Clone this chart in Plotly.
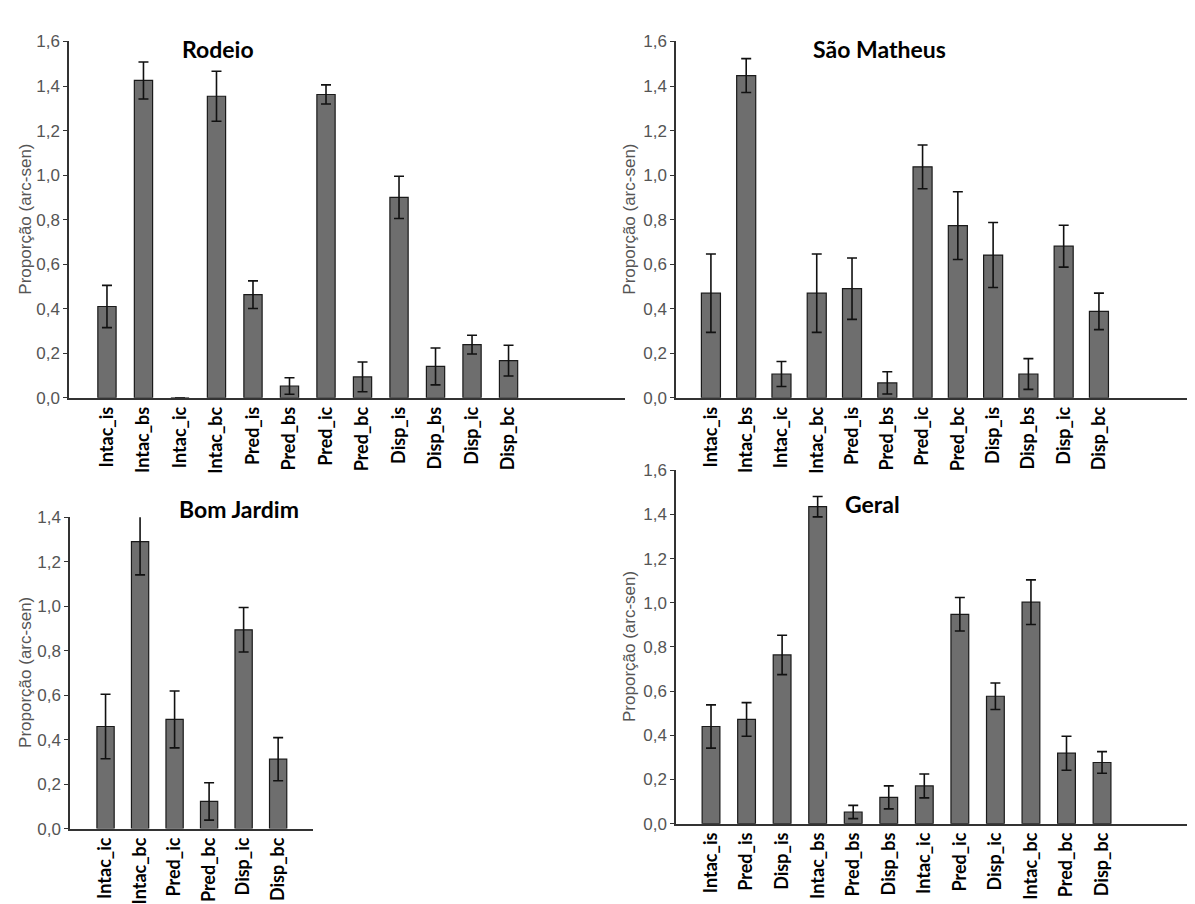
import plotly.graph_objects as go

# ---------------- data ----------------
rodeio_cats = ["Intac_is", "Intac_bs", "Intac_ic", "Intac_bc", "Pred_is", "Pred_bs",
               "Pred_ic", "Pred_bc", "Disp_is", "Disp_bs", "Disp_ic", "Disp_bc"]
rodeio_vals = [0.41, 1.425, 0.0, 1.354, 0.463, 0.053, 1.362, 0.094, 0.90, 0.141, 0.239, 0.167]
rodeio_errs = [0.095, 0.083, 0.0, 0.112, 0.062, 0.037, 0.043, 0.067, 0.095, 0.083, 0.042, 0.069]

smatheus_cats = ["Intac_is", "Intac_bs", "Intac_ic", "Intac_bc", "Pred_is", "Pred_bs",
                 "Pred_ic", "Pred_bc", "Disp_is", "Disp_bs", "Disp_ic", "Disp_bc"]
smatheus_vals = [0.47, 1.447, 0.107, 0.47, 0.49, 0.067, 1.037, 0.773, 0.641, 0.107, 0.681, 0.388]
smatheus_errs = [0.176, 0.076, 0.056, 0.176, 0.138, 0.05, 0.098, 0.152, 0.146, 0.069, 0.094, 0.082]

bomjardim_cats = ["Intac_ic", "Intac_bc", "Pred_ic", "Pred_bc", "Disp_ic", "Disp_bc"]
bomjardim_vals = [0.459, 1.29, 0.491, 0.122, 0.894, 0.312]
bomjardim_errs = [0.145, 0.149, 0.128, 0.084, 0.10, 0.097]

geral_cats = ["Intac_is", "Pred_is", "Disp_is", "Intac_bs", "Pred_bs", "Disp_bs",
              "Intac_ic", "Pred_ic", "Disp_ic", "Intac_bc", "Pred_bc", "Disp_bc"]
geral_vals = [0.44, 0.472, 0.764, 1.435, 0.053, 0.119, 0.171, 0.948, 0.577, 1.003, 0.319, 0.277]
geral_errs = [0.098, 0.076, 0.089, 0.046, 0.03, 0.052, 0.054, 0.076, 0.06, 0.101, 0.077, 0.049]

titles = ["Rodeio", "São Matheus", "Bom Jardim", "Geral"]
y_title = "Proporção (arc-sen)"
y_ticks_16 = [0, 0.2, 0.4, 0.6, 0.8, 1.0, 1.2, 1.4, 1.6]
y_ticks_14 = [0, 0.2, 0.4, 0.6, 0.8, 1.0, 1.2, 1.4]

# ---------------- layout geometry (pixels) ----------------
W, H = 1195, 904
panels = [
    (rodeio_cats, rodeio_vals, rodeio_errs, 61, 617, 389, 25, 1.6, [-1.04, 14.19], 0.5, y_ticks_16),
    (smatheus_cats, smatheus_vals, smatheus_errs, 668, 1195, 389, 25, 1.6, [-0.99, 13.95], 0.54, y_ticks_16),
    (bomjardim_cats, bomjardim_vals, bomjardim_errs, 62, 305, 829, 511, 1.4, [-1.03, 6.01], 0.5, y_ticks_14),
    (geral_cats, geral_vals, geral_errs, 668, 1195, 824, 463, 1.6, [-0.985, 13.84], 0.5, y_ticks_16),
]
title_pos = [(210, 33), (871, 33), (231, 503), (864, 497)]
ytitle_x = [18, 622, 18, 622]

fig = go.Figure()
annotations = []
for i, (cats, vals, errs, xl, xr, yz, yt, ymax, xrng, bw, yticks) in enumerate(panels):
    n = i + 1
    xa = "x" if n == 1 else f"x{n}"
    ya = "y" if n == 1 else f"y{n}"
    fig.add_trace(go.Bar(
        x=list(range(len(cats))), y=vals, width=bw, cliponaxis=False,
        marker=dict(color="#6e6e6e", line=dict(color="#1a1a1a", width=1.2)),
        error_y=dict(type="data", array=errs, visible=True, color="#111111",
                     thickness=1.6, width=5),
        xaxis=xa, yaxis=ya, showlegend=False,
    ))
    xdom = [xl / W, xr / W]
    ydom = [(H - yz) / H, (H - yt) / H]
    xkey = "xaxis" if n == 1 else f"xaxis{n}"
    ykey = "yaxis" if n == 1 else f"yaxis{n}"
    fig.update_layout(**{
        xkey: dict(domain=xdom, anchor=ya, range=xrng, tickmode="array",
                   tickvals=list(range(len(cats))), ticktext=cats, tickangle=-90,
                   showline=True, linecolor="#333333", linewidth=1.5,
                   showgrid=False, zeroline=False, ticks="",
                   tickfont=dict(family="Lato, Open Sans, sans-serif", size=18,
                                 color="black", weight="bold")),
        ykey: dict(domain=ydom, anchor=xa, range=[0, ymax], tickmode="array",
                   tickvals=yticks, tickformat=".1f",
                   showline=True, linecolor="#333333", linewidth=1.5,
                   showgrid=False, zeroline=False, ticks="outside", ticklen=4,
                   tickwidth=1.2, tickcolor="#333333",
                   tickfont=dict(family="Liberation Sans, Arial, sans-serif",
                                 size=17, color="#555555")),
    })
    tx, ty = title_pos[i]
    annotations.append(dict(text=titles[i], x=tx / W, y=(H - ty) / H, xref="paper",
                            yref="paper", xanchor="center", yanchor="middle",
                            showarrow=False,
                            font=dict(family="Lato, Open Sans, sans-serif", size=23,
                                      color="black", weight="bold")))
    annotations.append(dict(text=y_title, x=ytitle_x[i] / W,
                            y=(H - (yz + yt) / 2) / H, xref="paper", yref="paper",
                            xanchor="center", yanchor="middle", textangle=-90,
                            showarrow=False,
                            font=dict(family="Liberation Sans, Arial, sans-serif",
                                      size=17, color="#555555")))

fig.update_layout(width=W, height=H, margin=dict(l=0, r=0, t=0, b=0),
                  paper_bgcolor="white", plot_bgcolor="white",
                  separators=",.", annotations=annotations, bargap=0.5)
fig.write_html("out.html")
